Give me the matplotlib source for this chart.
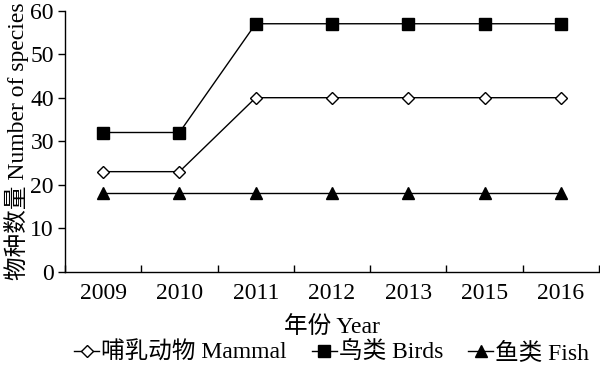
import matplotlib
matplotlib.use("Agg")
import matplotlib.pyplot as plt

years = ["2009", "2010", "2011", "2012", "2013", "2015", "2016"]
mammal = [23, 23, 40, 40, 40, 40, 40]
birds = [32, 32, 57, 57, 57, 57, 57]
fish = [18, 18, 18, 18, 18, 18, 18]

plt.rcParams['font.family'] = ['Liberation Serif', 'Noto Sans CJK SC']
fs = 17

fig = plt.figure(figsize=(6, 3.65), dpi=100)
ax = fig.add_axes([65/600, 1-271.7/365, (599-65)/600, (271.7-10.7)/365])

x = list(range(len(years)))
ax.plot(x, mammal, color='black', lw=1, marker='D', markersize=6.5,
        markerfacecolor='white', markeredgecolor='black', markeredgewidth=1,
        label='哺乳动物 Mammal')
ax.plot(x, birds, color='black', lw=1, marker='s', markersize=8,
        markerfacecolor='black', label='鸟类 Birds')
ax.plot(x, fish, color='black', lw=1, marker='^', markersize=8,
        markerfacecolor='black', label='鱼类 Fish')

ax.set_xlim(-0.5, len(years) - 0.5)
ax.set_ylim(0, 60)
ax.set_yticks(range(0, 61, 10))
ax.tick_params(axis='y', direction='out', length=5, width=1, labelsize=fs, pad=3)
ax.set_xticks(x)
ax.set_xticklabels(years)
ax.tick_params(axis='x', which='major', length=0, labelsize=fs, pad=8)
ax.set_xticks([i + 0.5 for i in range(-1, len(years))], minor=True)
ax.tick_params(axis='x', which='minor', direction='in', length=5, width=1)

for s in ['top', 'right']:
    ax.spines[s].set_visible(False)
for s in ['left', 'bottom']:
    ax.spines[s].set_linewidth(1)

ax.set_xlabel('年份 Year', fontsize=fs, labelpad=9)
ax.set_ylabel('物种数量 Number of species', fontsize=fs, labelpad=1)

fig.legend(loc='center', bbox_to_anchor=(0.553, 1-353/365), ncol=3, frameon=False,
           fontsize=fs, handlelength=1.05, handletextpad=0.1, columnspacing=1.05,
           borderpad=0)

fig.savefig('out.png', dpi=100)
